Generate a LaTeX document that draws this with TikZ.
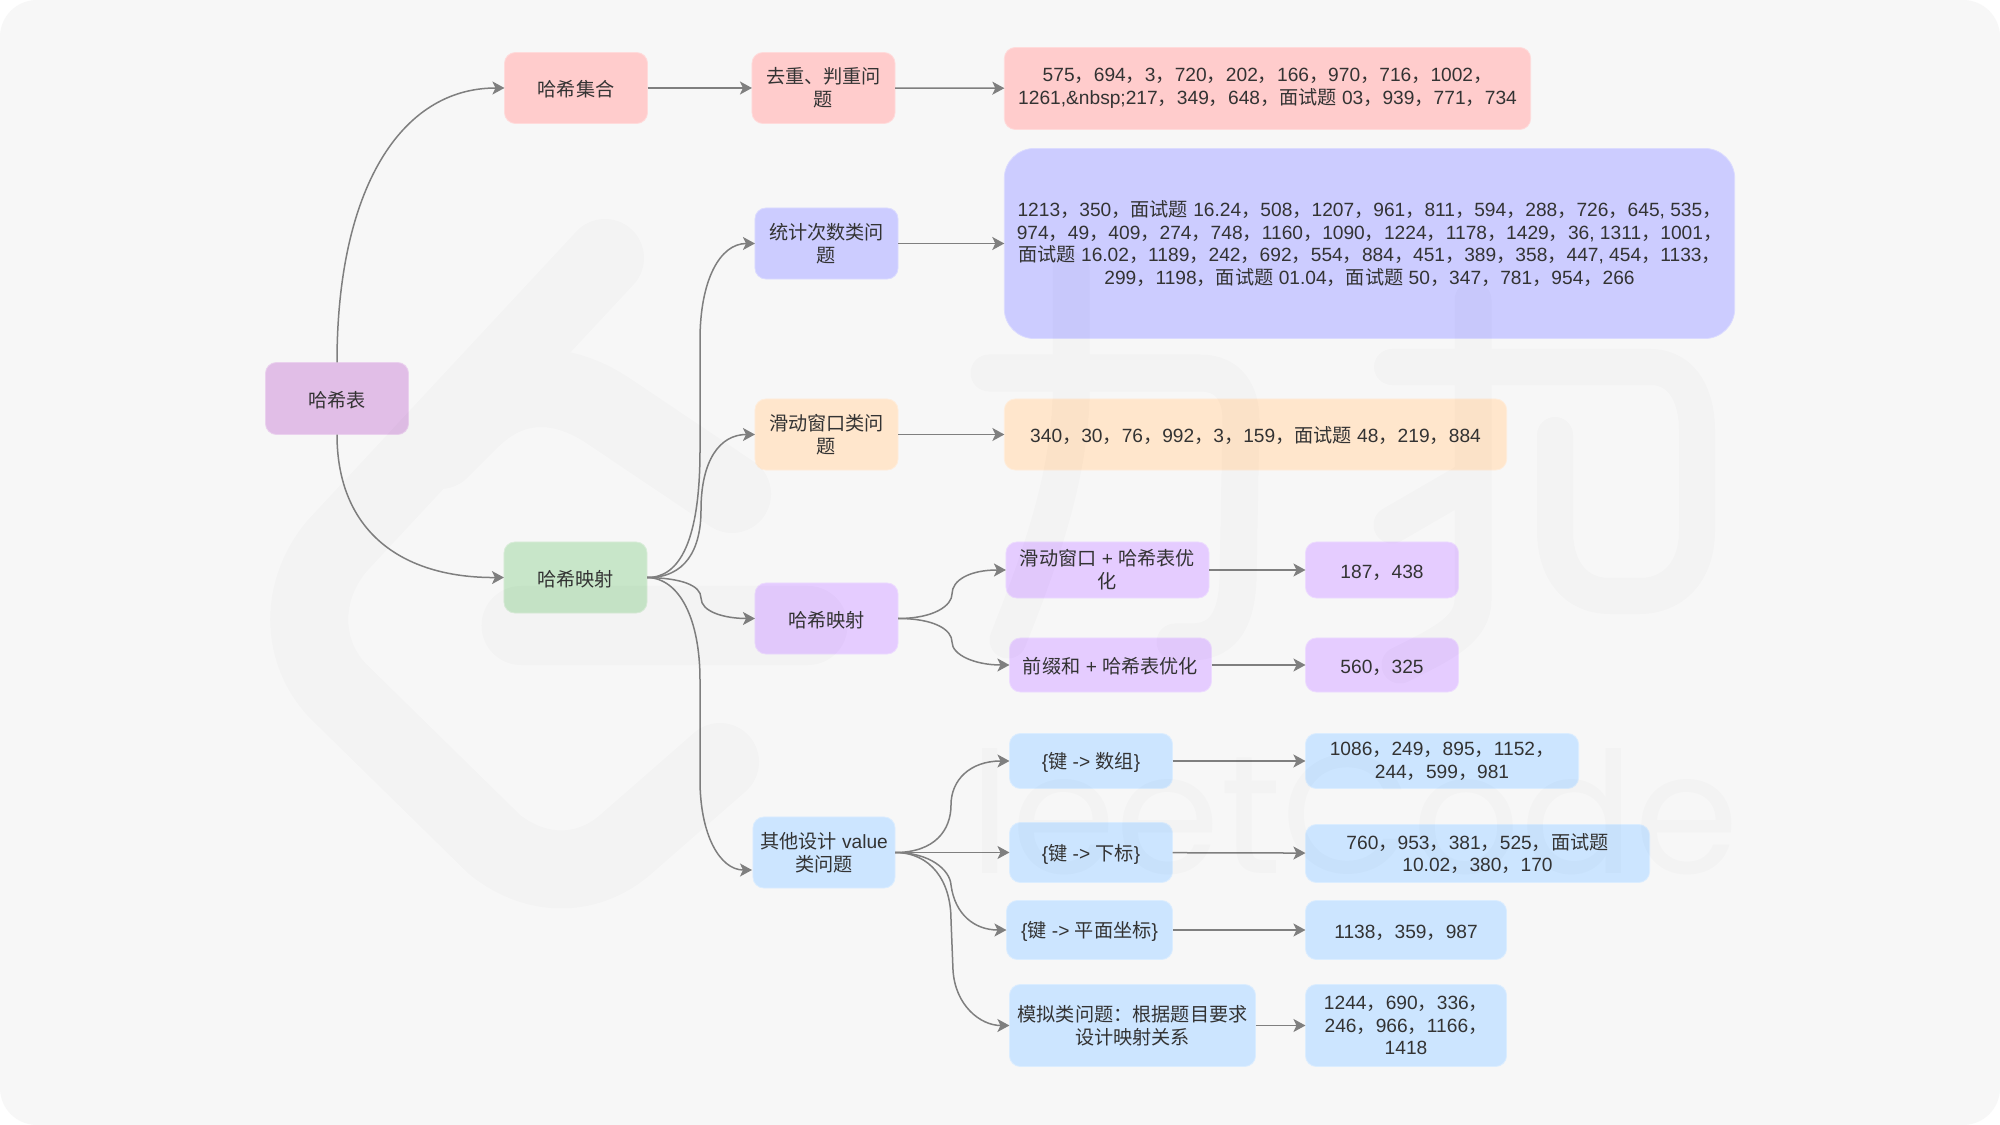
\documentclass[tikz,border=0pt]{standalone}
\usepackage{fontspec}
\setmainfont{Liberation Sans}
\newfontfamily\cjk{Noto Sans CJK SC}
\newfontfamily\wmfont{Poppins}
\usetikzlibrary{arrows.meta}
\newcommand{\zh}[1]{{\cjk #1}}
\newcommand{\dou}{\zh{，}}
\definecolor{panelbg}{HTML}{F7F7F7}
\definecolor{inktext}{HTML}{333333}
\definecolor{linkgray}{HTML}{7F7F7F}
\definecolor{rootfill}{HTML}{E1BEE7}
\definecolor{rosefill}{HTML}{FFCCCC}
\definecolor{greenfill}{HTML}{C8E6C9}
\definecolor{indigofill}{HTML}{CCCCFF}
\definecolor{orangefill}{HTML}{FFE6CC}
\definecolor{violetfill}{HTML}{E5CCFF}
\definecolor{bluefill}{HTML}{CCE5FF}
\begin{document}
\begin{tikzpicture}[
    x=0.01cm, y=-0.01cm,
    font=\fontsize{5.45}{6.5}\selectfont,
    box/.style={rectangle, rounded corners=0.11cm, align=center, inner sep=0pt, outer sep=0pt,
        text=inktext, line width=0.008cm, execute at begin node={\rule{0pt}{5.4pt}}},
    lowtext/.style={execute at begin node={\rule{0pt}{#1}}},
    rootbox/.style={box, fill=rootfill, draw=rootfill!70!white},
    rosebox/.style={box, fill=rosefill, draw=rosefill!70!white},
    greenbox/.style={box, fill=greenfill, draw=greenfill!70!white},
    indigobox/.style={box, fill=indigofill, draw=indigofill!70!white},
    orangebox/.style={box, fill=orangefill, draw=orangefill!70!white},
    violetbox/.style={box, fill=violetfill, draw=violetfill!70!white},
    bluebox/.style={box, fill=bluefill, draw=bluefill!70!white},
    link/.style={-{Stealth[length=0.12cm, width=0.13cm, inset=0.03cm]}, draw=linkgray, line width=0.015cm},
    wmstroke/.style={draw=black, line cap=round, line join=round}
]

% Panel
\fill[white] (0,0) rectangle (2000,1125);
\fill[panelbg, rounded corners=0.37cm] (0,0) rectangle (2000,1125);

% Root and first level
\node[rootbox, minimum width=1.43cm, minimum height=0.72cm] (root) at (337,398.5) {\zh{哈希表}};
\node[rosebox, minimum width=1.43cm, minimum height=0.71cm] (hashset) at (576,88) {\zh{哈希集合}};
\node[greenbox, minimum width=1.43cm, minimum height=0.71cm] (hashmap) at (575.5,577.5) {\zh{哈希映射}};

% Second level
\node[rosebox, minimum width=1.43cm, minimum height=0.71cm] (dedup) at (823.5,88) {\zh{去重、判重问}\\\zh{题}};
\node[indigobox, minimum width=1.43cm, minimum height=0.71cm] (counting) at (826.5,243.5) {\zh{统计次数类问}\\\zh{题}};
\node[orangebox, minimum width=1.43cm, minimum height=0.71cm] (window) at (826.5,434.5) {\zh{滑动窗口类问}\\\zh{题}};
\node[violetbox, minimum width=1.43cm, minimum height=0.71cm] (mapping) at (826.5,618.5) {\zh{哈希映射}};
\node[bluebox, minimum width=1.42cm, minimum height=0.71cm] (others) at (824,852.5) {\zh{其他设计} value\\\zh{类问题}};

% Problem lists
\node[rosebox, lowtext=6.9pt, minimum width=5.26cm, minimum height=0.82cm] (dedupList) at (1267.5,88.5) {575\dou 694\dou 3\dou 720\dou 202\dou 166\dou 970\dou 716\dou 1002\dou\\1261,\&nbsp;217\dou 349\dou 648\dou\zh{面试题} 03\dou 939\dou 771\dou 734};
\node[indigobox, lowtext=6pt, rounded corners=0.3cm, minimum width=7.30cm, minimum height=1.90cm] (countList) at (1369.5,243.5) {1213\dou 350\dou\zh{面试题} 16.24\dou 508\dou 1207\dou 961\dou 811\dou 594\dou 288\dou 726\dou 645, 535\dou\\974\dou 49\dou 409\dou 274\dou 748\dou 1160\dou 1090\dou 1224\dou 1178\dou 1429\dou 36, 1311\dou 1001\dou\\\zh{面试题} 16.02\dou 1189\dou 242\dou 692\dou 554\dou 884\dou 451\dou 389\dou 358\dou 447, 454\dou 1133\dou\\299\dou 1198\dou\zh{面试题} 01.04\dou\zh{面试题} 50\dou 347\dou 781\dou 954\dou 266};
\node[orangebox, minimum width=5.02cm, minimum height=0.71cm] (windowList) at (1255.5,434.5) {340\dou 30\dou 76\dou 992\dou 3\dou 159\dou\zh{面试题} 48\dou 219\dou 884};

% Hash mapping branches
\node[violetbox, minimum width=2.03cm, minimum height=0.56cm] (slideOpt) at (1107.5,570) {\zh{滑动窗口} + \zh{哈希表优}\\\zh{化}};
\node[violetbox, minimum width=1.53cm, minimum height=0.56cm] (slideList) at (1382,570) {187\dou 438};
\node[violetbox, minimum width=2.02cm, minimum height=0.54cm] (prefixOpt) at (1110.5,665) {\zh{前缀和} + \zh{哈希表优化}};
\node[violetbox, minimum width=1.53cm, minimum height=0.54cm] (prefixList) at (1382,665) {560\dou 325};

% Other value designs
\node[bluebox, minimum width=1.63cm, minimum height=0.55cm] (keyArray) at (1091,761) {\{\zh{键} -> \zh{数组}\}};
\node[bluebox, lowtext=6.9pt, minimum width=2.73cm, minimum height=0.55cm] (keyArrayList) at (1442,761) {1086\dou 249\dou 895\dou 1152\dou\\244\dou 599\dou 981};
\node[bluebox, minimum width=1.63cm, minimum height=0.60cm] (keyIndex) at (1091,852.5) {\{\zh{键} -> \zh{下标}\}};
\node[bluebox, minimum width=3.44cm, minimum height=0.58cm] (keyIndexList) at (1477.5,853.5) {760\dou 953\dou 381\dou 525\dou\zh{面试题}\\10.02\dou 380\dou 170};
\node[bluebox, minimum width=1.66cm, minimum height=0.59cm] (keyPlane) at (1089.5,930) {\{\zh{键} -> \zh{平面坐标}\}};
\node[bluebox, minimum width=2.01cm, minimum height=0.59cm] (keyPlaneList) at (1406,930) {1138\dou 359\dou 987};
\node[bluebox, minimum width=2.46cm, minimum height=0.82cm] (simulate) at (1132.5,1025.5) {\zh{模拟类问题：根据题目要求}\\\zh{设计映射关系}};
\node[bluebox, minimum width=2.01cm, minimum height=0.82cm] (simulateList) at (1406,1025.5) {1244\dou 690\dou 336\dou\\246\dou 966\dou 1166\dou\\1418};

% Curved links
\draw[link] (root.north) .. controls (337,190) and (400,88) .. (hashset.west);
\draw[link] (root.south) .. controls (337,530) and (400,578) .. (hashmap.west);
\draw[link] (hashmap.east) .. controls (680,578) and (700,540) .. (700,450) -- (700,340) .. controls (700,280) and (720,243.5) .. (counting.west);
\draw[link] (hashmap.east) .. controls (685,578) and (701,550) .. (701,510) .. controls (701,460) and (720,434.5) .. (window.west);
\draw[link] (hashmap.east) .. controls (680,578) and (701,585) .. (701,598) .. controls (701,612) and (725,618.5) .. (mapping.west);
\draw[link] (hashmap.east) .. controls (680,578) and (700,620) .. (700,680) -- (700,780) .. controls (700,835) and (720,870) .. (752,870);
\draw[link] (mapping.east) .. controls (935,618.5) and (952,605) .. (952,594) .. controls (952,580) and (970,570) .. (slideOpt.west);
\draw[link] (mapping.east) .. controls (935,618.5) and (952,630) .. (952,642) .. controls (952,655) and (975,665) .. (prefixOpt.west);
\draw[link] (others.east) .. controls (935,852.5) and (951,830) .. (951,805) .. controls (951,780) and (970,761) .. (keyArray.west);
\draw[link] (others.east) .. controls (930,852.5) and (950,870) .. (951,885) .. controls (955,915) and (975,930) .. (keyPlane.west);
\draw[link] (others.east) .. controls (930,852.5) and (951,880) .. (951,920) -- (953,970) .. controls (955,1005) and (980,1025.5) .. (simulate.west);

% Straight links
\draw[link] (hashset) -- (dedup);
\draw[link] (dedup) -- (dedupList);
\draw[link] (counting) -- (countList);
\draw[link] (window) -- (windowList);
\draw[link] (slideOpt) -- (slideList);
\draw[link] (prefixOpt) -- (prefixList);
\draw[link] (others) -- (keyIndex);
\draw[link] (keyArray) -- (keyArrayList);
\draw[link] (keyIndex) -- (keyIndexList);
\draw[link] (keyPlane) -- (keyPlaneList);
\draw[link] (simulate) -- (simulateList);

% Watermark
\begin{scope}[transparency group, opacity=0.016]
\draw[wmstroke, line width=0.78cm] (605,258) -- (337,546) .. controls (300,590) and (300,650) .. (337,690) -- (495,845) .. controls (540,880) and (590,875) .. (625,845) -- (720,762);
\draw[wmstroke, line width=0.78cm] (732,494) -- (610,412) .. controls (560,378) and (510,380) .. (470,420) -- (440,450);
\draw[wmstroke, line width=0.79cm] (521,625.5) -- (808,625.5);
\draw[wmstroke, line width=0.37cm] (989,373) -- (1200,373) .. controls (1230,373) and (1241,395) .. (1241,420) -- (1238,580) .. controls (1236,625) and (1220,642) .. (1190,642) -- (1175,642);
\draw[wmstroke, line width=0.37cm] (1071,270) -- (1071,400) .. controls (1068,480) and (1040,560) .. (1008,640);
\draw[wmstroke, line width=0.37cm] (1473,300) -- (1473,600) .. controls (1473,630) and (1440,645) .. (1400,665);
\draw[wmstroke, line width=0.37cm] (1392,525) -- (1473,478);
\draw[wmstroke, line width=0.36cm] (1392,367) -- (1650,367) .. controls (1685,367) and (1697,400) .. (1697,430) -- (1697,530) .. controls (1697,575) and (1670,596) .. (1640,596) -- (1610,596) .. controls (1575,596) and (1555,570) .. (1555,530) -- (1555,435);
\node[anchor=base west, inner sep=0pt, text=black, font=\wmfont\fontsize{48}{48}\selectfont] (wmtext) at (969,873) {leetCode};
\end{scope}

\end{tikzpicture}
\end{document}
